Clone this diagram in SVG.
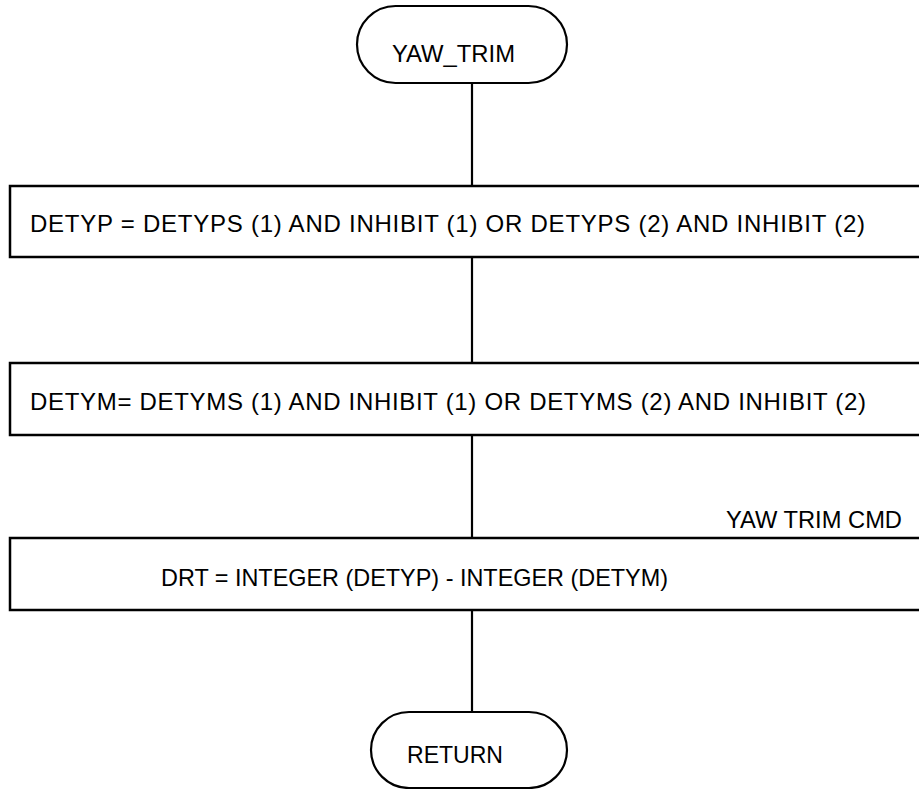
<svg xmlns="http://www.w3.org/2000/svg" width="919" height="789" viewBox="0 0 919 789">
<style>
  .shape { fill: #ffffff; stroke: #000000; stroke-width: 2.5; }
  .term { fill: #ffffff; stroke: #000000; stroke-width: 2.2; }
  .conn { stroke: #000000; stroke-width: 2.2; fill: none; }
  .txt { font-family: "Liberation Sans", Arial, sans-serif; font-size: 24px; fill: #000000; }
</style>
<rect width="919" height="789" fill="#ffffff"/>
<g id="connectors">
  <line class="conn" x1="472" y1="83" x2="472" y2="186"/>
  <line class="conn" x1="472" y1="257" x2="472" y2="363"/>
  <line class="conn" x1="472" y1="435" x2="472" y2="538"/>
  <line class="conn" x1="472" y1="610" x2="472" y2="712"/>
</g>
<g id="start">
  <rect class="term" x="357" y="6" width="210" height="77" rx="38.5" ry="38.5"/>
  <text class="txt" x="392" y="62" textLength="123" lengthAdjust="spacingAndGlyphs">YAW_TRIM</text>
</g>
<g id="detyp">
  <rect class="shape" x="10" y="186" width="930" height="71"/>
  <text class="txt" x="30" y="232" textLength="835" lengthAdjust="spacing">DETYP = DETYPS (1) AND INHIBIT (1) OR DETYPS (2) AND INHIBIT (2)</text>
</g>
<g id="detym">
  <rect class="shape" x="10" y="363" width="930" height="72"/>
  <text class="txt" x="30" y="410" textLength="836" lengthAdjust="spacing">DETYM= DETYMS (1) AND INHIBIT (1) OR DETYMS (2) AND INHIBIT (2)</text>
</g>
<g id="label-yaw-trim-cmd">
  <text class="txt" x="726" y="528" textLength="176" lengthAdjust="spacingAndGlyphs">YAW TRIM CMD</text>
</g>
<g id="drt">
  <rect class="shape" x="10" y="538" width="930" height="72"/>
  <text class="txt" x="161" y="586" textLength="507" lengthAdjust="spacingAndGlyphs">DRT = INTEGER (DETYP) - INTEGER (DETYM)</text>
</g>
<g id="return">
  <rect class="term" x="371" y="712" width="196" height="76" rx="38" ry="38"/>
  <text class="txt" x="407" y="763" textLength="96" lengthAdjust="spacingAndGlyphs">RETURN</text>
</g>
</svg>
